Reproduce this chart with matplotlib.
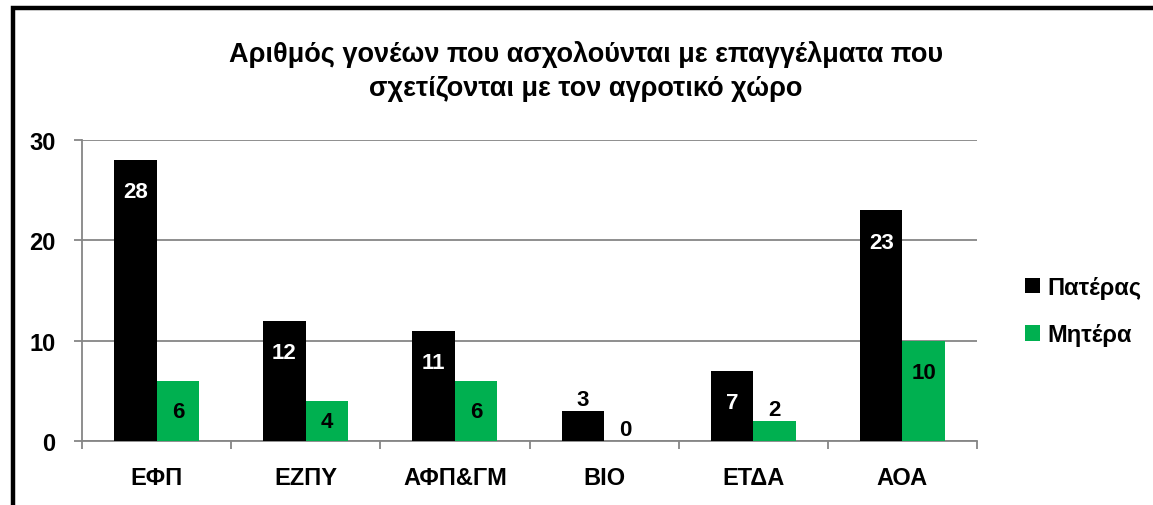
import numpy as np
import matplotlib
matplotlib.use("Agg")
import matplotlib.pyplot as plt
from matplotlib.patches import Rectangle, Patch

plt.rcParams['font.family'] = ['Liberation Sans', 'DejaVu Sans']
plt.rcParams['font.weight'] = 'bold'

categories = ['ΕΦΠ', 'ΕΖΠΥ', 'ΑΦΠ&ΓΜ', 'ΒΙΟ', 'ΕΤΔΑ', 'ΑΟΑ']
pateras = [28, 12, 11, 3, 7, 23]
mitera = [6, 4, 6, 0, 2, 10]
series_names = ['Πατέρας', 'Μητέρα']
title = 'Αριθμός γονέων που ασχολούνται με επαγγέλματα που\nσχετίζονται με τον αγροτικό χώρο'

colors = ['#000000', '#00B050']
grid_col = '#868686'

W, H = 1153, 506
fig = plt.figure(figsize=(W / 100, H / 100), dpi=100)
ax = fig.add_axes([82 / W, 1 - 442 / H, (977 - 82) / W, (442 - 141) / H])

x = np.arange(len(categories))
bw = 0.285
b1 = ax.bar(x - bw / 2, pateras, bw, color=colors[0], zorder=3)
b2 = ax.bar(x + bw / 2, mitera, bw, color=colors[1], zorder=3)

# value labels
px_per_unit = (442 - 141) / 30.0
for bars, vals, txtcol in [(b1, pateras, 'white'), (b2, mitera, 'black')]:
    for rect, v in zip(bars, vals):
        cx = rect.get_x() + rect.get_width() / 2
        h_px = v * px_per_unit
        if v >= 4:
            off = min(31, h_px / 2)
            ax.annotate(str(v), (cx, v), xytext=(0, -off * 0.74), textcoords='offset points',
                        ha='center', va='center', color=txtcol, fontsize=16,
                        fontweight='bold', zorder=4)
        else:
            ax.annotate(str(v), (cx, v), xytext=(0, 1), textcoords='offset points',
                        ha='center', va='bottom', color='black', fontsize=16,
                        fontweight='bold', zorder=4)

ax.set_xlim(-0.5, len(categories) - 0.5)
ax.set_ylim(0, 30)
ax.set_yticks([0, 10, 20, 30])
ax.yaxis.grid(True, color=grid_col, linewidth=1.3, zorder=0)
ax.set_xticks(x)
ax.set_xticklabels(categories, fontsize=17, fontweight='bold')
ax.set_xticks(np.arange(len(categories) + 1) - 0.5, minor=True)
ax.tick_params(axis='x', which='major', length=0, pad=18)
ax.tick_params(axis='x', which='minor', length=6, color=grid_col, width=1.3)
ax.tick_params(axis='y', length=6, color=grid_col, width=1.3, pad=13, labelsize=17)
for t in ax.get_yticklabels():
    t.set_fontweight('bold')
for s in ['top', 'right']:
    ax.spines[s].set_visible(False)
for s in ['left', 'bottom']:
    ax.spines[s].set_color(grid_col)
    ax.spines[s].set_linewidth(1.3)

fig.text(586 / W, 1 - 72 / H, title, ha='center', va='center', fontsize=19.5,
         fontweight='bold', linespacing=1.4)

handles = [Patch(facecolor=c) for c in colors]
fig.legend(handles, series_names, loc='center left', bbox_to_anchor=(1004 / W, 1 - 312 / H),
           frameon=False, handlelength=0.62, handleheight=0.62,
           handletextpad=0.3, labelspacing=1.05, prop={'weight': 'bold', 'size': 17})

fig.patches.append(Rectangle((13 / W, -0.1), 1.2, 1 - 9 / H + 0.1, transform=fig.transFigure,
                             fill=False, edgecolor='black', linewidth=3.2, zorder=10))

fig.savefig('out.png', dpi=100)
